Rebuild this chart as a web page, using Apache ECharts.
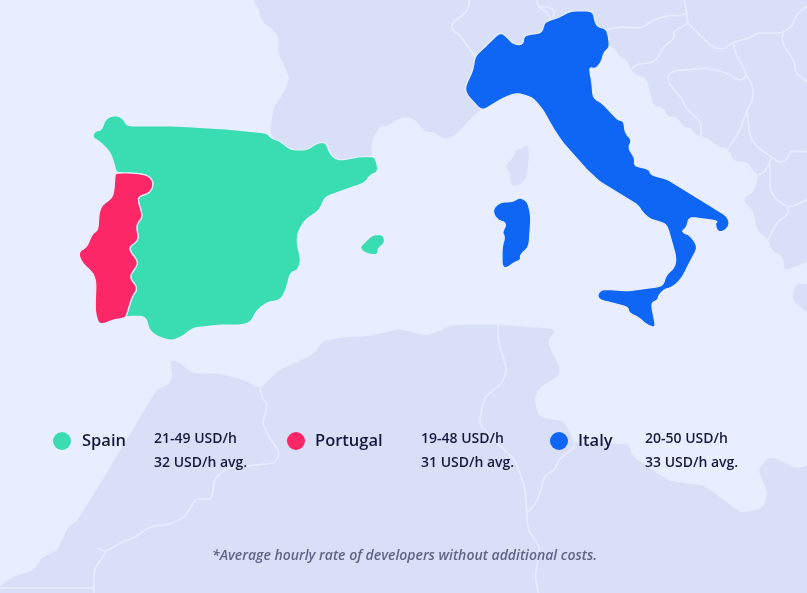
<!DOCTYPE html>
<html lang="en">
<head>
    <meta charset="UTF-8">
    <title>Developer hourly rates</title>
    <style>
        html, body { margin: 0; padding: 0; background: #e8eeff; }
        #main { width: 807px; height: 593px; }
    </style>
</head>
<body>
    <div id="main"></div>
    <script src="https://cdn.jsdelivr.net/npm/echarts@6/dist/echarts.min.js"></script>
    <script>
        // values
        var countries = ['Spain', 'Portugal', 'Italy'];
        var rateRanges = ['21-49 USD/h', '19-48 USD/h', '20-50 USD/h'];
        var rateAverages = [32, 31, 33];
        var countryColors = ['#3addb1', '#fb2767', '#0f66f5'];
        var footnote = '*Average hourly rate of developers without additional costs.';

        // map outlines (x right, y down, 807x593 frame)
        var spainPortugalBorder = [[133,173],[148,175],[154,183],[150,193],[137,197],[143,217],[136,225],[139,240],[128,248],[139,263],[129,277],[138,288],[132,297],[126,317]];
        var spainCoast = [[126,317],[135,316],[146,317],[149,330],[158,337],[172,341],[183,336],[193,328],[203,327],[220,325],[242,325],[251,322],[257,310],[268,302],[277,301],[283,297],[288,283],[290,273],[298,270],[301,260],[297,243],[298,232],[305,220],[317,212],[321,207],[325,197],[347,189],[365,183],[370,175],[378,172],[377,163],[374,156],[357,157],[343,160],[335,159],[329,152],[326,142],[317,143],[307,150],[293,150],[287,147],[280,141],[271,138],[267,133],[227,129],[177,126],[127,126],[123,118],[115,115],[105,119],[102,130],[95,131],[92,137],[100,142],[110,152],[114,163],[116,173]];
        var portugalCoast = [[124,318],[113,320],[103,324],[98,323],[95,310],[96,282],[93,273],[82,263],[78,252],[87,247],[92,234],[98,230],[99,213],[102,205],[112,198],[114,190],[115,175],[116,173]];
        var balearic = [[360,247],[365,242],[372,235],[382,234],[385,240],[383,245],[378,248],[378,255],[368,254],[362,251]];
        var italyMain = [[475,56],[487,45],[500,32],[507,37],[513,44],[523,45],[524,35],[542,33],[544,23],[550,20],[560,17],[570,11],[593,11],[595,22],[598,27],[607,29],[610,47],[604,52],[601,63],[595,69],[589,67],[592,83],[593,98],[602,103],[618,120],[624,121],[625,133],[632,140],[628,148],[635,158],[634,166],[649,169],[651,175],[667,179],[717,210],[727,216],[730,225],[723,232],[717,231],[715,223],[718,221],[689,217],[687,227],[681,232],[690,235],[698,247],[690,262],[682,278],[673,287],[663,290],[658,297],[658,300],[651,303],[656,328],[647,325],[638,317],[629,313],[628,307],[600,300],[597,295],[602,289],[627,291],[663,286],[666,275],[675,267],[676,257],[667,225],[660,222],[650,219],[643,213],[638,205],[600,182],[587,170],[563,143],[553,128],[543,110],[533,98],[518,93],[505,97],[482,111],[467,95],[465,87],[473,70]];
        var sardinia = [[492,210],[500,202],[512,202],[520,197],[528,202],[531,217],[529,247],[520,255],[521,260],[515,262],[507,268],[502,267],[502,247],[505,237],[502,233],[507,223],[497,220]];
        var corsica = [[528,143],[530,153],[527,180],[517,187],[510,185],[509,173],[504,165],[513,157],[514,150],[523,147]];
        var france = [[252,-12],[252,0],[258,10],[262,23],[275,32],[278,40],[278,55],[289,78],[283,92],[273,107],[269,133],[290,165],[370,165],[373,157],[372,143],[380,127],[387,127],[403,117],[415,120],[423,132],[435,133],[445,141],[457,135],[473,117],[481,111],[490,80],[474,55],[460,35],[452,30],[452,23],[467,12],[470,0],[470,-12]];
        var northEast = [[470,-12],[470,0],[467,12],[452,23],[452,30],[460,35],[474,55],[520,60],[600,40],[610,47],[615,50],[617,55],[627,62],[630,71],[637,77],[645,77],[653,107],[663,108],[666,117],[677,118],[683,128],[690,128],[695,136],[707,138],[717,147],[728,149],[733,162],[748,163],[752,172],[758,175],[753,192],[743,197],[745,205],[752,210],[757,232],[768,240],[770,250],[783,258],[783,272],[807,263],[820,258],[820,-12]];
        var northAfrica = [[-12,592],[0,585],[15,575],[33,570],[41,557],[57,550],[67,527],[77,520],[157,388],[167,385],[172,377],[169,360],[178,360],[193,373],[221,373],[247,380],[260,388],[278,370],[314,353],[322,340],[340,337],[371,335],[399,328],[427,335],[453,324],[499,324],[553,328],[556,333],[548,340],[553,353],[561,368],[559,377],[540,388],[535,400],[540,417],[564,420],[571,433],[574,442],[612,443],[630,443],[632,455],[669,480],[705,485],[741,512],[762,508],[767,493],[757,470],[769,456],[782,460],[795,468],[807,465],[820,462],[820,606],[-12,606]];
        var cornerIsland = [[795,283],[820,283],[820,325],[803,310],[793,302],[792,293]];
        var landBorders = [
            [[536,-5],[538,7],[548,13],[551,20]],
            [[538,7],[550,7],[555,12],[553,17]],
            [[607,29],[623,27],[642,28],[653,20],[670,15],[680,16],[687,13]],
            [[683,-5],[687,13],[688,23]],
            [[688,23],[673,32],[675,38],[663,47],[660,55],[652,63],[637,64],[630,71]],
            [[688,23],[703,38],[713,48],[725,49],[733,42],[750,38],[757,33],[783,33],[793,25],[797,13],[812,3]],
            [[783,33],[782,43],[795,62],[795,73],[812,85]],
            [[733,42],[737,57],[745,70],[746,77],[740,81],[727,73],[707,68],[672,71],[667,78],[672,88],[682,98],[685,107],[701,122],[701,136]],
            [[745,72],[753,87],[753,100],[747,110],[740,130],[728,149]],
            [[747,110],[750,137],[757,147],[772,157],[780,163],[787,160],[790,151],[812,152]],
            [[772,157],[765,172],[758,175]],
            [[770,163],[770,190],[775,198],[788,208],[812,198]],
            [[788,208],[788,215],[777,222],[768,240]],
            [[260,388],[262,398],[268,405],[262,423],[273,443],[280,453],[275,463],[257,465],[226,468],[214,480],[212,500],[196,498],[185,517],[170,524],[149,527],[134,538],[121,542],[106,552],[98,548]],
            [[106,552],[94,570],[94,600]],
            [[-5,588],[94,588]],
            [[498,324],[498,340],[507,370],[502,383],[484,398],[479,423],[489,435],[515,460],[525,487],[528,530],[540,547],[535,577],[540,600]],
            [[574,442],[574,448],[558,460],[555,470],[545,475],[538,500],[528,512]]
        ];

        // rounds the traced corners, long straight edges stay straight
        function smooth(points, closed) {
            var out = closed ? [] : [points[0]];
            var n = points.length;
            var last = closed ? n : n - 1;
            for (var i = 0; i < last; i++) {
                var a = points[i], b = points[(i + 1) % n];
                var len = Math.hypot(b[0] - a[0], b[1] - a[1]) || 1;
                var t = Math.min(0.25, 3 / len);
                out.push([a[0] + (b[0] - a[0]) * t, a[1] + (b[1] - a[1]) * t]);
                out.push([b[0] - (b[0] - a[0]) * t, b[1] - (b[1] - a[1]) * t]);
            }
            if (!closed) out.push(points[n - 1]);
            return out;
        }
        function toRing(points, closed) {
            var p = smooth(smooth(points, closed), closed);
            var ring = p.map(function (c) { return [c[0], -c[1]]; });
            if (closed) ring.push(ring[0]);
            return ring;
        }
        function region(name, outlines) {
            return {
                type: 'Feature',
                properties: { name: name },
                geometry: {
                    type: 'MultiPolygon',
                    coordinates: outlines.map(function (o) { return [toRing(o, true)]; })
                }
            };
        }

        var spainOutline = spainCoast.concat(spainPortugalBorder);
        var portugalOutline = spainPortugalBorder.concat(portugalCoast);

        echarts.registerMap('med', {
            type: 'FeatureCollection',
            features: [
                region('France', [france]),
                region('North East', [northEast]),
                region('North Africa', [northAfrica]),
                region('Corsica', [corsica]),
                region('Corner', [cornerIsland]),
                {
                    type: 'Feature',
                    properties: { name: 'Borders' },
                    geometry: {
                        type: 'MultiLineString',
                        coordinates: landBorders.map(function (l) { return toRing(l, false); })
                    }
                },
                region('Spain', [spainOutline, balearic]),
                region('Portugal', [portugalOutline]),
                region('Italy', [italyMain, sardinia])
            ]
        });

        var mChart = echarts.init(document.getElementById('main'));

        var textColor = '#141a3d';
        var fontFamily = '"Open Sans", sans-serif';
        var dotLeft = [53, 287, 550];
        var nameLeft = [82, 315, 578];
        var rateLeft = [154, 421, 645];

        // legend row and footnote, z keeps them above the map
        var overlay = [];
        countries.forEach(function (name, i) {
            overlay.push({
                type: 'circle',
                z: 10,
                shape: { cx: dotLeft[i] + 9, cy: 441, r: 9 },
                style: { fill: countryColors[i] }
            });
            overlay.push({
                type: 'text',
                z: 10,
                x: nameLeft[i], y: 441,
                style: { text: name, fill: textColor, font: '600 16.5px ' + fontFamily, verticalAlign: 'middle' }
            });
            overlay.push({
                type: 'text',
                z: 10,
                x: rateLeft[i], y: 439,
                style: { text: rateRanges[i], fill: textColor, font: '600 14px ' + fontFamily, verticalAlign: 'middle' }
            });
            overlay.push({
                type: 'text',
                z: 10,
                x: rateLeft[i], y: 463,
                style: { text: rateAverages[i] + ' USD/h avg.', fill: textColor, font: '600 14px ' + fontFamily, verticalAlign: 'middle' }
            });
        });
        overlay.push({
            type: 'text',
            z: 10,
            x: 212, y: 556,
            style: { text: footnote, fill: '#5f6485', font: 'italic 600 14px ' + fontFamily, verticalAlign: 'middle' }
        });

        var option = {
            backgroundColor: '#e8eeff',
            animation: false,
            tooltip: { show: false },
            graphic: { elements: overlay },
            series: [
                {
                    type: 'map',
                    map: 'med',
                    silent: true,
                    roam: false,
                    showLegendSymbol: false,
                    aspectScale: 1,
                    boundingCoords: [[0, 0], [807, -593]],
                    layoutCenter: ['50%', '50%'],
                    layoutSize: 807,
                    label: { show: false },
                    itemStyle: { areaColor: '#dadff8', borderColor: '#e8eeff', borderWidth: 1.5 },
                    data: countries.map(function (name, i) {
                        return {
                            name: name,
                            value: rateAverages[i],
                            itemStyle: { areaColor: countryColors[i], borderWidth: 1.2 }
                        };
                    })
                }
            ]
        };

        mChart.setOption(option);
    </script>
</body>
</html>
